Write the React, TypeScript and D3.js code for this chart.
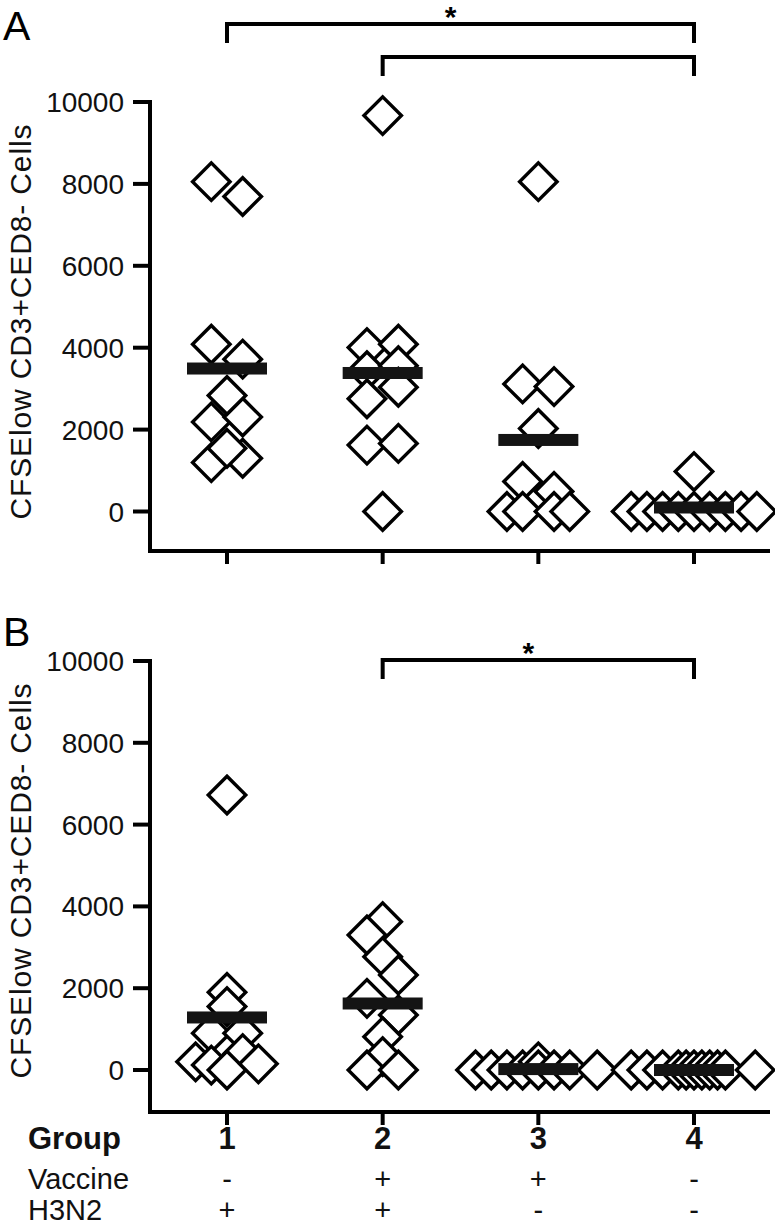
import React from "react";
import * as d3 from "d3";

// ---------- data ----------
const groups = ["1", "2", "3", "4"];
const vaccineRow = ["-", "+", "+", "-"];
const h3n2Row = ["+", "+", "-", "-"];
const yTicks = [0, 2000, 4000, 6000, 8000, 10000];
const yLabel = "CFSElow CD3+CED8- Cells";

// Panel A values (per group) and their jitter column
const a1Values = [8055, 7692, 4084, 3721, 2187, 2308, 2833, 1194, 1300, 1542];
const a1Cols = [-1, 1, -1, 1, -1, 1, 0, -1, 1, 0];
const a2Values = [9669, 4003, 4084, 3438, 3559, 3034, 2753, 1622, 1663, 0];
const a2Cols = [0, -1, 1, -1, 1, 1, -1, -1, 1, 0];
const a3Values = [8055, 3115, 3051, 2027, 733, 491, 0, 0, 0, 0];
const a3Cols = [0, -1, 1, 0, -1, 1, -2, -1, 1, 2];
const a4Values = [976, 0, 0, 0, 0, 0, 0, 0, 0, 0];
const a4Cols = [0, -4, -3, -2, -1, 0, 1, 2, 3, 4];

// Panel B
const b1Values = [6724, 1900, 1550, 900, 900, 400, 200, 120, 0, 150];
const b1Cols = [0, 0, 0, -1, 1, 1, -2, -1, 0, 2];
const b2Values = [3626, 3301, 2771, 2323, 1753, 1345, 815, 326, 0, 0];
const b2Cols = [0, -1, 0, 1, -1, 1, 0, 0, -1, 1];
const b3Values = [0, 0, 0, 0, 200, 0, 0, 0, 0];
const b3Cols = [-4, -3, -2, -1, 0, 0, 1, 2, 3.75];
const b4Values = [0, 0, 0, 0, 0, 0, 0, 0, 0, 0, 0];
const b4Cols = [-4, -3, -2, -1, -0.5, 0, 0.5, 1, 1.5, 2, 3.9];

// significance comparisons
const compA = [
  { from: "1", to: "4", label: "*" },
  { from: "2", to: "4", label: "" },
];
const compB = [{ from: "2", to: "4", label: "*" }];

// ---------- layout ----------
const W = 775;
const H = 1229;
const FONT = "'Liberation Sans', Arial, Helvetica, sans-serif";
const AXIS_X = 150;
const X_END = 770;

const xGroup = d3.scalePoint<string>().domain(groups).range([227, 694]);
const colScale = d3.scaleLinear().domain([0, 1]).range([0, 15.7]);
const diamond = d3.symbol().type(d3.symbolSquare).size(26.5 * 26.5)();

type Series = { values: number[]; cols: number[] };

function Panel({
  letter,
  series,
  y0,
  y1,
  xAxisY,
  letterY,
  comps,
  compYs,
}: {
  letter: string;
  series: Series[];
  y0: number;
  y1: number;
  xAxisY: number;
  letterY: number;
  comps: { from: string; to: string; label: string }[];
  compYs: number[];
}) {
  const y = d3.scaleLinear().domain([0, 10000]).range([y0, y1]);
  const top = y(10000);
  return (
    <g>
      <text x={3} y={letterY} fontFamily={FONT} fontSize={41}>
        {letter}
      </text>
      {/* y axis title */}
      <text
        transform={`translate(31,${top + 220}) rotate(-90)`}
        textAnchor="middle"
        fontFamily={FONT}
        fontSize={30}
        textLength={395}
        lengthAdjust="spacing"
        fill="#111"
      >
        {yLabel}
      </text>
      {/* y axis */}
      <line x1={AXIS_X} x2={AXIS_X} y1={top - 2} y2={xAxisY + 2} stroke="#000" strokeWidth={4} />
      {yTicks.map((t) => (
        <g key={t}>
          <line x1={AXIS_X - 17} x2={AXIS_X} y1={y(t)} y2={y(t)} stroke="#000" strokeWidth={4} />
          <text
            x={124}
            y={y(t)}
            dy="0.36em"
            textAnchor="end"
            fontFamily={FONT}
            fontSize={28}
            fill="#111"
          >
            {t}
          </text>
        </g>
      ))}
      {/* x axis */}
      <line x1={AXIS_X - 2} x2={X_END} y1={xAxisY} y2={xAxisY} stroke="#000" strokeWidth={4} />
      {groups.map((g) => (
        <line
          key={g}
          x1={xGroup(g)}
          x2={xGroup(g)}
          y1={xAxisY}
          y2={xAxisY + 13}
          stroke="#000"
          strokeWidth={4}
        />
      ))}
      {/* points */}
      {series.map((s, gi) => {
        const cx = xGroup(groups[gi]) as number;
        return (
          <g key={gi}>
            {s.values.map((v, i) => (
              <path
                key={i}
                d={diamond}
                transform={`translate(${cx + colScale(s.cols[i])},${y(v)}) rotate(45)`}
                fill="#fff"
                stroke="#000"
                strokeWidth={3.4}
              />
            ))}
          </g>
        );
      })}
      {/* mean bars */}
      {series.map((s, gi) => {
        const cx = xGroup(groups[gi]) as number;
        const m = d3.mean(s.values) as number;
        return <rect key={gi} x={cx - 40} y={y(m) - 6} width={80} height={12} fill="#141414" />;
      })}
      {/* significance brackets */}
      {comps.map((c, i) => {
        const xa = xGroup(c.from) as number;
        const xb = xGroup(c.to) as number;
        const by = compYs[i];
        return (
          <g key={i}>
            <path
              d={`M${xa},${by + 19} V${by} H${xb} V${by + 19}`}
              fill="none"
              stroke="#000"
              strokeWidth={4}
            />
            {c.label && (
              <text
                x={(xa + xb) / 2 - 10}
                y={by + 3}
                textAnchor="middle"
                fontFamily={FONT}
                fontWeight="bold"
                fontSize={30}
              >
                {c.label}
              </text>
            )}
          </g>
        );
      })}
    </g>
  );
}

export default function App() {
  const seriesA: Series[] = [
    { values: a1Values, cols: a1Cols },
    { values: a2Values, cols: a2Cols },
    { values: a3Values, cols: a3Cols },
    { values: a4Values, cols: a4Cols },
  ];
  const seriesB: Series[] = [
    { values: b1Values, cols: b1Cols },
    { values: b2Values, cols: b2Cols },
    { values: b3Values, cols: b3Cols },
    { values: b4Values, cols: b4Cols },
  ];
  return (
    <svg
      width={W}
      height={H}
      style={{ position: "absolute", left: 0, top: 0, background: "#fff" }}
    >
      <rect width={W} height={H} fill="#fff" />
      <Panel
        letter="A"
        series={seriesA}
        y0={511.5}
        y1={102}
        xAxisY={551}
        letterY={40}
        comps={compA}
        compYs={[24, 57]}
      />
      <Panel
        letter="B"
        series={seriesB}
        y0={1070}
        y1={661}
        xAxisY={1112}
        letterY={646}
        comps={compB}
        compYs={[660]}
      />
      {/* bottom category table */}
      <g fontFamily={FONT} fill="#111">
        <text x={28} y={1149} fontSize={31} fontWeight="bold">
          Group
        </text>
        <text x={28} y={1189} fontSize={29}>
          Vaccine
        </text>
        <text x={28} y={1220} fontSize={29}>
          H3N2
        </text>
        {groups.map((g, i) => (
          <g key={g}>
            <text x={xGroup(g)} y={1149} fontSize={31} fontWeight="bold" textAnchor="middle">
              {g}
            </text>
            <text x={xGroup(g)} y={1189} fontSize={29} textAnchor="middle">
              {vaccineRow[i]}
            </text>
            <text x={xGroup(g)} y={1220} fontSize={29} textAnchor="middle">
              {h3n2Row[i]}
            </text>
          </g>
        ))}
      </g>
    </svg>
  );
}
